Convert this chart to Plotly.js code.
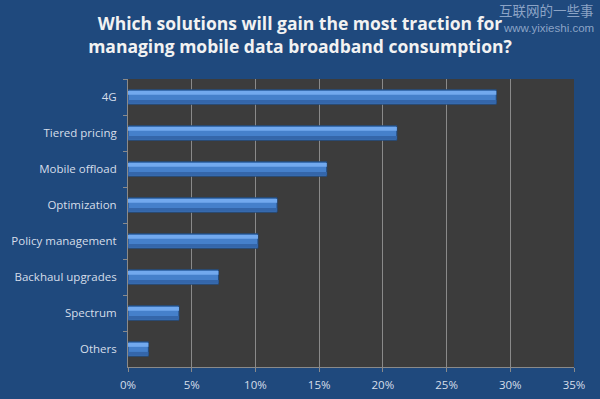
<!DOCTYPE html>
<html><head><meta charset="utf-8">
<script src="https://cdn.plot.ly/plotly-3.0.1.min.js"></script>
<style>html,body{margin:0;padding:0;background:#1f497d;}#c{width:600px;height:399px;}</style>
</head><body><div id="c"></div>
<script>
const categories = ["4G","Tiered pricing","Mobile offload","Optimization","Policy management","Backhaul upgrades","Spectrum","Others"];
const values = [28.9, 21.1, 15.6, 11.7, 10.2, 7.1, 4.0, 1.6];
const xTicks = [0,5,10,15,20,25,30,35];
const xTickLabels = ["0%","5%","10%","15%","20%","25%","30%","35%"];

const base = {
  type: 'bar', orientation: 'h', y: categories, x: values, hoverinfo: 'skip'
};
const traces = [
  Object.assign({}, base, {width: 0.4, marker: {color: '#4580cb', line: {color: '#22497a', width: 1}}}),
  Object.assign({}, base, {width: 0.11, offset: -0.17, marker: {color: '#72a9ee', line: {width: 0}}}),
  Object.assign({}, base, {width: 0.1, offset: 0.08, marker: {color: '#3466aa', line: {width: 0}}})
];
const layout = {
  width: 600, height: 399,
  paper_bgcolor: '#1f497d', plot_bgcolor: '#3c3c3c',
  margin: {l: 128, r: 26, t: 79, b: 32},
  showlegend: false, barmode: 'overlay',
  font: {family: 'Open Sans, sans-serif', color: '#dbe3ee', size: 12},
  title: {text: 'Which solutions will gain the most traction for<br>managing mobile data broadband consumption?',
    x: 0.5, xanchor: 'center', y: 0.925, yanchor: 'top',
    font: {family: 'Open Sans, sans-serif', size: 17.5, color: '#f2f2f2', weight: 'bold'}},
  xaxis: {range: [0, 35], tickvals: xTicks, ticktext: xTickLabels, showgrid: true,
    gridcolor: '#8a8a8a', gridwidth: 1, zeroline: false, showline: true, linecolor: '#8a8a8a',
    ticks: 'outside', ticklen: 4, tickcolor: '#8a8a8a', ticklabelstandoff: 3,
    tickfont: {size: 11.5, color: '#d6deea'}, fixedrange: true},
  yaxis: {autorange: 'reversed', showgrid: false, showline: true, linecolor: '#8a8a8a',
    ticks: 'outside', ticklen: 4, tickcolor: '#8a8a8a', tickson: 'boundaries', ticklabelstandoff: 8,
    tickfont: {size: 11.5, color: '#d6deea'}, fixedrange: true},
  annotations: [
    {text: '互联网的一些事', xref: 'paper', yref: 'paper', x: 1.049, y: 1.24, xanchor: 'right', yanchor: 'middle',
      showarrow: false, font: {family: 'Noto Sans CJK SC', size: 13.5, color: 'rgba(190,205,230,0.7)'}},
    {text: 'www.yixieshi.com', xref: 'paper', yref: 'paper', x: 1.049, y: 1.178, xanchor: 'right', yanchor: 'middle',
      showarrow: false, font: {family: 'Liberation Sans', size: 11.5, color: 'rgba(190,205,230,0.7)'}}
  ]
};
Plotly.newPlot('c', traces, layout, {staticPlot: true});
</script></body></html>
